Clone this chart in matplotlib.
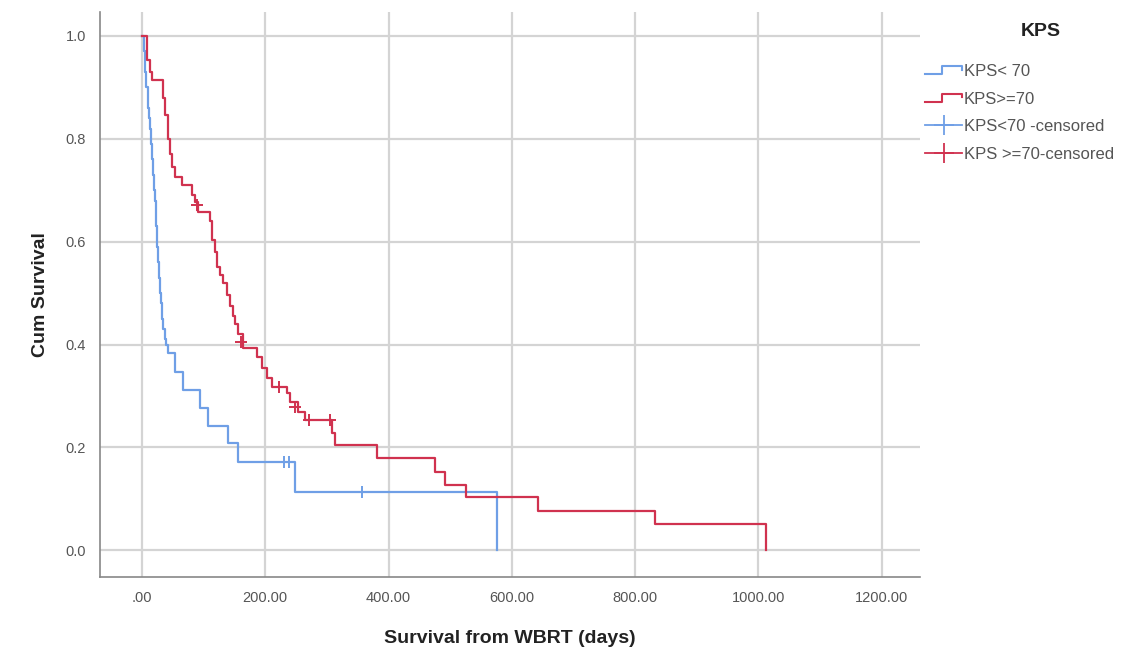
import matplotlib
matplotlib.use("Agg")
import matplotlib.pyplot as plt
from matplotlib.lines import Line2D
from matplotlib.legend_handler import HandlerBase

plt.rcParams["font.family"] = ["Liberation Sans", "DejaVu Sans"]

# KPS < 70: step times (days) and survival after each step
low_t = [0, 3, 5, 7, 10, 12, 13, 15, 16, 18, 20, 21, 23, 24, 26, 28, 30, 31, 33, 34,
         37, 39, 42, 54, 66, 94, 107, 139, 156, 248, 576]
low_s = [1.0, 0.97, 0.93, 0.90, 0.86, 0.84, 0.82, 0.79, 0.76, 0.73, 0.70, 0.68, 0.63,
         0.59, 0.56, 0.53, 0.50, 0.48, 0.45, 0.43, 0.41, 0.40, 0.383, 0.346, 0.311,
         0.276, 0.241, 0.208, 0.171, 0.114, 0.0]
low_cens_t = [230, 238, 357]
low_cens_s = [0.171, 0.171, 0.114]

# KPS >= 70
high_t = [0, 8, 13, 16, 34, 37, 42, 45, 49, 54, 65, 81, 86, 91, 110, 114, 118, 122, 126,
          131, 138, 143, 148, 151, 156, 164, 186, 195, 203, 211, 235, 240, 253, 264,
          308, 313, 381, 475, 491, 525, 642, 833, 1013]
high_s = [1.0, 0.953, 0.93, 0.914, 0.88, 0.846, 0.80, 0.77, 0.745, 0.726, 0.71, 0.69,
          0.677, 0.658, 0.64, 0.603, 0.58, 0.55, 0.535, 0.52, 0.496, 0.475, 0.455, 0.44,
          0.42, 0.393, 0.375, 0.355, 0.335, 0.317, 0.305, 0.288, 0.268, 0.253, 0.228,
          0.204, 0.179, 0.152, 0.126, 0.103, 0.076, 0.052, 0.0]
high_cens_t = [89, 161, 222, 248, 271, 305]
high_cens_s = [0.672, 0.405, 0.317, 0.278, 0.253, 0.253]

blue = "#6f9fe6"
red = "#d0324f"
grey_txt = "#555555"


class StepHandler(HandlerBase):
    def create_artists(self, legend, orig_handle, xdescent, ydescent,
                       width, height, fontsize, trans):
        x0, x1 = -xdescent, -xdescent + width
        xm = x0 + width * 0.45
        ylo = -ydescent + height * 0.15
        yhi = -ydescent + height * 0.85
        ln = Line2D([x0, xm, xm, x1, x1], [ylo, ylo, yhi, yhi, ylo + height * 0.4],
                    color=orig_handle.get_color(), lw=1.5, transform=trans)
        return [ln]


fig = plt.figure(figsize=(11.37, 6.53), dpi=100)
ax = fig.add_axes([0.088, 0.116, 0.721, 0.866])

ax.step(low_t, low_s, where="post", color=blue, lw=1.6)
ax.step(high_t, high_s, where="post", color=red, lw=1.6)
ax.plot(low_cens_t, low_cens_s, "+", color=blue, ms=9, mew=1.4)
ax.plot(high_cens_t, high_cens_s, "+", color=red, ms=9, mew=1.4)

ax.set_xlim(-68, 1262)
ax.set_ylim(-0.0525, 1.047)
xt = [0, 200, 400, 600, 800, 1000, 1200]
ax.set_xticks(xt)
ax.set_xticklabels([".00", "200.00", "400.00", "600.00", "800.00", "1000.00", "1200.00"])
ax.set_yticks([0, 0.2, 0.4, 0.6, 0.8, 1.0])
ax.set_yticklabels(["0.0", "0.2", "0.4", "0.6", "0.8", "1.0"])
ax.grid(True, color="#d4d4d4", lw=1.6)
ax.set_axisbelow(True)
for s in ["top", "right"]:
    ax.spines[s].set_visible(False)
for s in ["left", "bottom"]:
    ax.spines[s].set_color("#888888")
    ax.spines[s].set_linewidth(1.2)
ax.tick_params(length=0, labelsize=10.5, colors=grey_txt, pad=10)

ax.set_xlabel("Survival from WBRT (days)", fontsize=14, fontweight="bold",
              color="#222222", labelpad=18)
ax.set_ylabel("Cum Survival", fontsize=14, fontweight="bold", color="#222222",
              labelpad=12)

h1 = Line2D([], [], color=blue)
h2 = Line2D([], [], color=red)
h3 = Line2D([], [], color=blue, marker="+", ms=14, mew=1.3, lw=1.3)
h4 = Line2D([], [], color=red, marker="+", ms=14, mew=1.3, lw=1.3)
leg = fig.legend([h1, h2, h3, h4],
                 ["KPS< 70", "KPS>=70", "KPS<70 -censored", "KPS >=70-censored"],
                 handler_map={h1: StepHandler(), h2: StepHandler()},
                 loc="upper left", bbox_to_anchor=(0.808, 0.912), frameon=False,
                 fontsize=12, handlelength=2.2, handletextpad=0.1, labelspacing=0.75,
                 borderaxespad=0)
for t in leg.get_texts():
    t.set_color(grey_txt)
fig.text(0.915, 0.951, "KPS", fontsize=14, fontweight="bold", color="#222222",
         ha="center", va="center")

fig.savefig("out.png", dpi=100, facecolor="white")
